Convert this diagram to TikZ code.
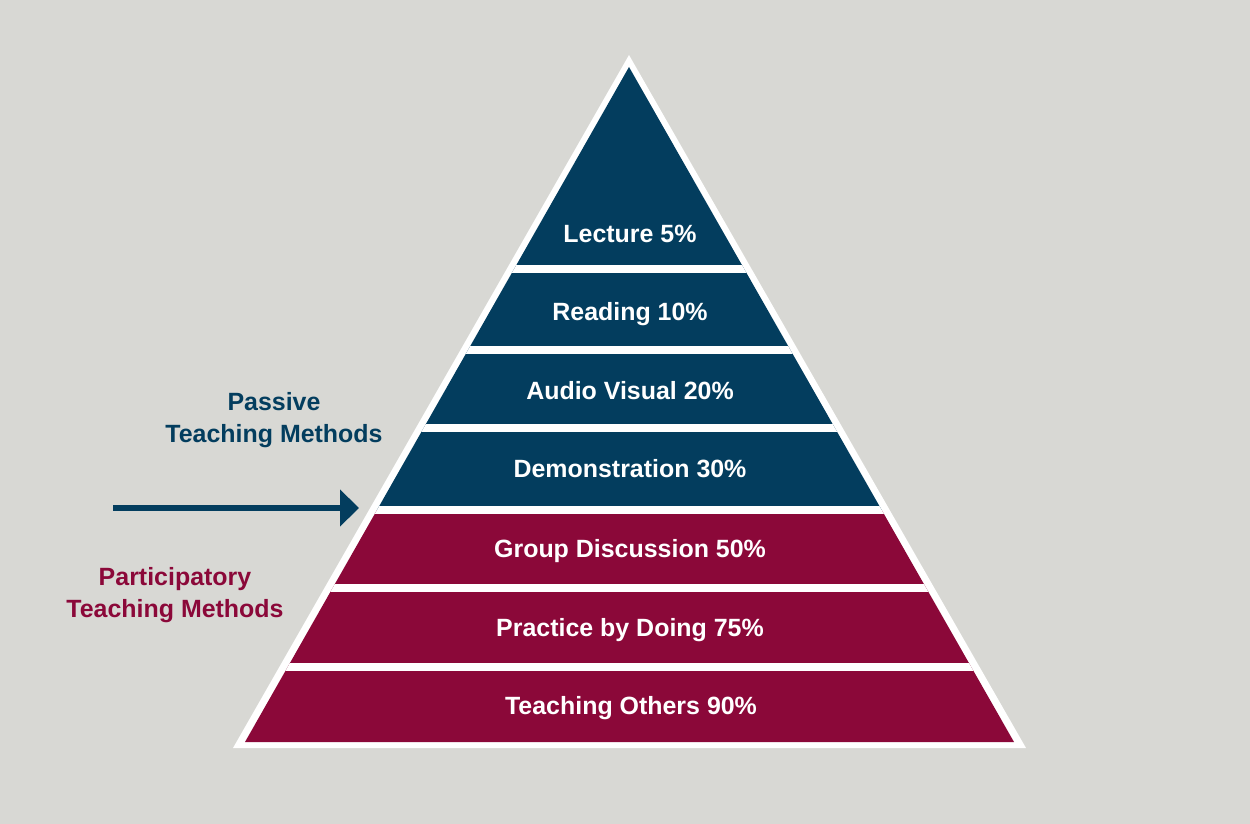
\documentclass[tikz,border=0pt]{standalone}
\usepackage{fontspec}
\setmainfont{Liberation Sans}
\usepackage{tikz}
\usetikzlibrary{arrows.meta}
\definecolor{navy}{HTML}{033D5E}
\definecolor{maroon}{HTML}{8B0839}
\definecolor{pale}{HTML}{D8D8D4}

\begin{document}
\begin{tikzpicture}[
  x=0.02cm,y=-0.02cm,
  every node/.style={font=\fontsize{14.2}{18.2}\selectfont\bfseries,align=center},
  level/.style={text=white,anchor=base},
  gap/.style={white,line width=0.16cm},
  arr/.style={-{Triangle[length=3.8mm,width=7.2mm]},line width=1.3mm,navy}
]
\fill[pale] (0,0) rectangle (1250,824);
\fill[white] (629,55) -- (233,748) -- (1026,748) -- cycle;
\begin{scope}
\clip (629,67) -- (245,742) -- (1014,742) -- cycle;
\fill[navy] (200,60) rectangle (1050,509.5);
\fill[maroon] (200,509.5) rectangle (1050,750);
\draw[gap] (200,269) -- (1050,269);
\draw[gap] (200,349.5) -- (1050,349.5);
\draw[gap] (200,428) -- (1050,428);
\draw[gap] (200,509.5) -- (1050,509.5);
\draw[gap] (200,587.5) -- (1050,587.5);
\draw[gap] (200,667) -- (1050,667);
\end{scope}

\node[level] (lecture) at (630,242) {Lecture 5\%};
\node[level] (reading) at (630,320) {Reading 10\%};
\node[level] (audio) at (630,399) {Audio Visual 20\%};
\node[level] (demo) at (630,477) {Demonstration 30\%};
\node[level] (group) at (630,557) {Group Discussion 50\%};
\node[level] (practice) at (630,636) {Practice by Doing 75\%};
\node[level] (teaching) at (631,714) {Teaching Others 90\%};

\node[text=navy] (passive) at (274,420) {Passive\\Teaching Methods};
\node[text=maroon] (particip) at (175,595) {Participatory\\Teaching Methods};

\coordinate (tail) at (113,508);
\coordinate (tip) at (359,508);
\draw[arr] (tail) -- (tip);
\end{tikzpicture}
\end{document}
